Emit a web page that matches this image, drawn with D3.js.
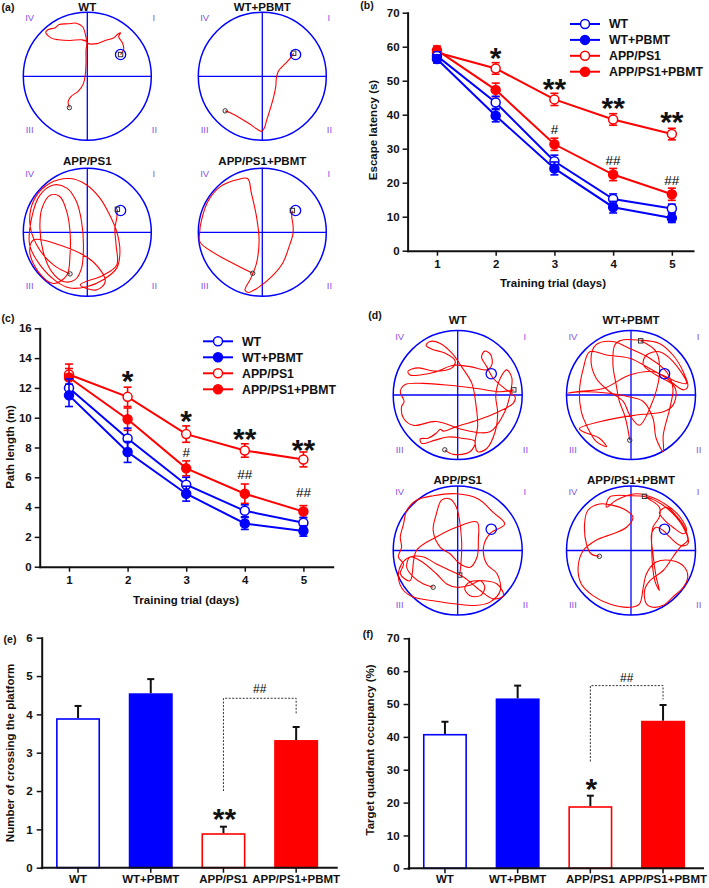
<!DOCTYPE html>
<html><head><meta charset="utf-8">
<script src="https://cdn.jsdelivr.net/npm/d3@7"></script>
<style>
body{margin:0;background:#fff;}
svg{display:block;font-family:"Liberation Sans",Arial,sans-serif;}
</style></head><body>
<svg id="chart" width="709" height="888"></svg>
<script>
// ---------- data ----------
const days=[1,2,3,4,5];
const groups=["WT","WT+PBMT","APP/PS1","APP/PS1+PBMT"];
// (b) escape latency (s)
const latWT=[57.3,43.6,26.3,15.2,12.4];
const latWTP=[56.4,39.7,24.2,12.8,9.6];
const latAPP=[58.3,53.6,44.5,38.6,34.3];
const latAPPP=[59.0,47.3,31.3,22.4,16.6];
const latErrWT=[1.2,1.8,1.8,1.5,1.3];
const latErrWTP=[1.2,1.8,1.9,1.7,1.3];
const latErrAPP=[1.2,1.7,1.8,1.7,1.7];
const latErrAPPP=[1.2,2.0,1.8,1.8,1.8];
const latStars=[[2,"*",58.5],[3,"**",49.4],[4,"**",43.8],[5,"**",39.7]];
const latHash=[[3,"#",35.7],[4,"##",26.7],[5,"##",20.8]];
const latTicks=[0,10,20,30,40,50,60,70];
// (c) path length (m)
const pathWT=[12.0,8.6,5.5,3.75,2.95];
const pathWTP=[11.5,7.7,4.9,2.9,2.4];
const pathAPP=[12.9,11.4,8.9,7.8,7.2];
const pathAPPP=[12.7,9.9,6.6,4.9,3.7];
const pathErrWT=[0.6,0.7,0.5,0.4,0.35];
const pathErrWTP=[0.75,0.7,0.5,0.4,0.35];
const pathErrAPP=[0.7,0.65,0.55,0.45,0.5];
const pathErrAPPP=[0.6,0.75,0.5,0.65,0.4];
const pathStars=[[2,"*",12.9],[3,"*",10.2],[4,"**",9.0],[5,"**",8.3]];
const pathHash=[[3,"#",7.65],[4,"##",6.22],[5,"##",4.97]];
const pathTicks=[0,2,4,6,8,10,12,14,16];
// (e) number of crossings
const crossVals=[3.9,4.55,0.9,3.33];
const crossErr=[0.32,0.37,0.17,0.34];
const crossTicks=[0,1,2,3,4,5,6];
const crossStar=["**",1.43];
const crossHash=["##",4.66];
const crossBracket=[2.0,4.42,4.0];
// (f) target quadrant occupancy (%)
const occVals=[40.9,51.7,18.9,44.9];
const occErr=[3.7,3.9,3.2,4.8];
const occTicks=[0,10,20,30,40,50,60,70];
const occStar=["*",26.0];
const occHash=["##",58.0];
const occBracket=[32.5,55.6,51.4];
// swim trajectories, pool coordinates (-100..100, y downward)
const platformA=[52,-34], platformD=[52,-33];
const trajA_WT=[[-28,49],[-30,40],[-26,32],[-14,23],[-6,11.5],[-3,-4],[-2,-22],[-2,-41],[-1,-54],[-9,-57],[-27,-56],[-45,-57],[-57,-60],[-65,-69],[-61,-73],[-50,-76],[-44,-81],[-30,-82],[-17,-83],[-7,-77],[-2,-61],[0,-52],[15,-51],[28,-56],[41,-60],[48,-66],[52,-68],[49,-62],[55,-52],[57,-43],[52,-34]];
const trajA_WTP=[[-58,54],[-50,57],[-35,65],[-19,75],[-9,82],[-1,86],[3,81],[7,68],[13,49],[18,31],[21,16],[22,3],[25,-8],[32,-16],[39,-23],[45,-30],[49,-36]];
const trajA_APP=[[-27,65],[-53,51],[-79,20],[-90,-17],[-82,-53],[-58,-77],[-27,-84],[-1,-74],[20,-53],[35,-27],[46,-1],[51,30],[46,56],[25,74],[-1,85],[-27,87],[-48,77],[-74,51],[-90,20],[-87,-22],[-74,-58],[-53,-74],[-32,-69],[-17,-48],[-9,-17],[-6,20],[-9,56],[-19,74],[-37,77],[-56,61],[-69,30],[-74,-6],[-71,-37],[-58,-58],[-43,-56],[-32,-32],[-27,-1],[-27,35],[-32,67],[-53,80],[-77,61],[-90,30],[-84,12],[-43,20],[9,46],[28,77],[14,90],[-11,82],[25,67],[46,51],[45,20],[43,-6],[46,-22],[47,-36]];
const trajA_APPP=[[-15,64],[-97,16],[-98,2],[-95,-19],[-84,-50],[-66,-71],[-40,-82],[-23,-84],[-17,-61],[-9,-24],[-5,12],[-9,48],[-18,72],[-27,90],[-22,94],[-6,86],[15,69],[32,48],[42,22],[48,2],[48,-11],[46,-25],[47,-34]];
const trajD_WT=[[-20,85],[-7,92],[19,88],[27,72],[6,67],[-15,65],[-35,70],[-56,75],[-58,68],[-46,67],[-33,59],[-27,53],[-22,56],[-2,49],[30,39],[61,27],[86,13],[89,3],[73,-10],[55,-26],[45,-44],[37,-59],[42,-68],[51,-63],[53,-47],[45,-39],[19,-44],[-7,-46],[-33,-36],[-58,-31],[-74,-31],[-77,-37],[-61,-42],[-35,-37],[-9,-42],[-4,-53],[-20,-65],[-40,-71],[-49,-77],[-43,-83],[-27,-80],[-9,-65],[6,-44],[22,-18],[28,13],[31,47],[27,75],[31,88],[45,83],[58,57],[62,28],[59,0],[66,-26],[76,-39],[84,-26],[81,0],[73,26],[50,57],[9,54],[-33,41],[-69,47],[-84,36],[-87,18],[-83,10],[-89,-5],[-82,-16],[-53,-18],[-12,-15],[30,-10],[66,-5],[87,-8]];
const trajD_WTP=[[-2,70],[-5,52],[-10,31],[-18,10],[-23,-16],[-28,-47],[-25,-78],[-15,-85],[13,-85],[44,-80],[65,-62],[81,-36],[88,-13],[81,-8],[55,-26],[29,-41],[-2,-57],[-38,-62],[-64,-67],[-74,-41],[-80,-5],[-77,26],[-69,47],[-54,72],[-38,80],[-49,67],[-74,57],[-80,52],[-38,39],[8,31],[50,26],[65,16],[70,-5],[65,-16],[39,-31],[19,-47],[24,-62],[44,-67],[65,-52],[86,-18],[70,-21],[34,-36],[-2,-31],[-43,-10],[-85,-5],[-98,-3],[-74,-5],[-38,-3],[-2,3],[19,10],[34,36],[39,67],[50,88],[50,62],[60,21],[65,-10],[55,-36],[29,-57],[-2,-72],[-28,-83],[-54,-78],[-62,-57],[-54,-26],[-33,-5],[-12,10],[-2,31],[13,47],[29,21],[44,-31],[39,-67],[15,-84]];
const trajD_APP=[[-38,57],[-53,52],[-69,41],[-79,26],[-74,10],[-58,16],[-33,36],[-17,52],[-2,57],[19,54],[35,47],[42,57],[35,70],[19,70],[11,59],[19,49],[40,47],[61,52],[71,70],[55,75],[35,62],[9,41],[-12,31],[-33,21],[-53,10],[-74,10],[-87,21],[-92,41],[-84,62],[-69,72],[-38,78],[-2,83],[30,85],[50,80],[66,62],[61,36],[45,21],[40,-5],[50,-26],[73,-41],[55,-59],[32,-80],[-2,-88],[-38,-85],[-64,-78],[-79,-62],[-84,-41],[-89,-21],[-87,-5],[-92,10],[-84,21],[-89,36],[-74,47],[-64,0],[-33,-21],[-2,-36],[30,-44],[32,-16],[30,10],[19,26],[4,21],[-12,5],[-27,-5],[-38,-31],[-33,-57],[-25,-78],[-12,-80],[-2,-67],[6,-16],[5,21],[3,38]];
const trajD_APPP=[[-49,9],[-62,5],[-69,-10],[-72,-41],[-67,-62],[-49,-72],[-28,-70],[-7,-62],[3,-52],[-7,-36],[-28,-26],[-54,-16],[-74,0],[-82,26],[-77,52],[-59,70],[-33,83],[-2,88],[13,83],[19,57],[24,36],[39,18],[65,16],[83,26],[88,41],[81,57],[65,72],[50,85],[34,88],[24,83],[21,62],[29,47],[50,31],[65,10],[76,-5],[88,-16],[81,-36],[65,-57],[47,-72],[24,-83],[-2,-85],[-33,-83],[-38,-67],[-23,-78],[8,-88],[39,-80],[60,-67],[76,-52],[86,-31],[81,-26],[65,-36],[52,-47],[44,-59],[55,-67],[70,-54],[83,-36],[88,-10],[76,-8],[60,-21],[50,-31],[39,-36],[32,-26],[34,5],[39,41],[44,62],[37,47],[32,-5],[34,-36],[44,-52],[44,-67],[29,-79],[21,-84]];

// ---------- styles ----------
const BLUE="#0000ff", RED="#ff0000", PURPLE="#8a55e6", INK="#111";
const colors=[BLUE,BLUE,RED,RED];
const filled=[false,true,false,true];
const svg=d3.select("#chart");

function styleAxis(g){
  g.attr("font-size",null).attr("font-family",null);
  g.select(".domain").attr("stroke",INK).attr("stroke-width",2).attr("stroke-linecap","square");
  g.selectAll(".tick line").attr("stroke",INK).attr("stroke-width",1.5);
  g.selectAll(".tick text").attr("fill",INK).attr("font-size",11.5).attr("font-weight","bold");
}
function label(x,y,t,o={}){
  return svg.append("text").attr("x",x).attr("y",y).attr("dy",o.dy||"0.35em")
    .attr("text-anchor",o.anchor||"middle").attr("font-size",o.size||11.5)
    .attr("font-weight",o.weight||"bold").attr("fill",o.fill||INK).text(t);
}
function vlabel(x,y,t){
  svg.append("text").attr("transform",`translate(${x},${y}) rotate(-90)`).attr("dy","0.35em")
    .attr("text-anchor","middle").attr("font-size",11.5).attr("font-weight","bold").attr("fill",INK).text(t);
}
function stars(x,y,t,fs){
  svg.append("text").attr("x",x).attr("y",y+0.55*fs).attr("text-anchor","middle")
    .attr("font-size",fs).attr("font-weight","bold").attr("fill",INK).text(t);
}

// ---------- line panels ----------
function linePanel(o){
  const x=d3.scaleLinear().domain([0.5,o.xEnd]).range(o.xr);
  const y=d3.scaleLinear().domain(o.yd).range(o.yr);
  const ax=svg.append("g").attr("transform",`translate(0,${o.yr[0]})`)
    .call(d3.axisBottom(x).tickValues(days).tickFormat(d3.format("d")).tickSize(5).tickPadding(4).tickSizeOuter(0));
  const ay=svg.append("g").attr("transform",`translate(${o.xr[0]},0)`)
    .call(d3.axisLeft(y).tickValues(o.yt).tickFormat(d3.format("d")).tickSize(5).tickPadding(3).tickSizeOuter(0));
  styleAxis(ax);styleAxis(ay);
  label(o.xtPos[0],o.xtPos[1],"Training trial (days)");
  vlabel(o.ytPos[0],o.ytPos[1],o.yTitle);
  [2,3,0,1].forEach(i=>{
    const pts=days.map((d,k)=>({d,v:o.series[i][k],e:o.errs[i][k]}));
    const g=svg.append("g");
    g.append("path").datum(pts).attr("d",d3.line().x(p=>x(p.d)).y(p=>y(p.v)))
      .attr("fill","none").attr("stroke",colors[i]).attr("stroke-width",2);
    const eb=g.selectAll("g.eb").data(pts).join("g").attr("class","eb")
      .attr("stroke",colors[i]).attr("stroke-width",1.6);
    eb.append("line").attr("x1",p=>x(p.d)).attr("x2",p=>x(p.d)).attr("y1",p=>y(p.v-p.e)).attr("y2",p=>y(p.v+p.e));
    eb.append("line").attr("x1",p=>x(p.d)-4).attr("x2",p=>x(p.d)+4).attr("y1",p=>y(p.v+p.e)).attr("y2",p=>y(p.v+p.e));
    eb.append("line").attr("x1",p=>x(p.d)-4).attr("x2",p=>x(p.d)+4).attr("y1",p=>y(p.v-p.e)).attr("y2",p=>y(p.v-p.e));
    g.selectAll("circle").data(pts).join("circle").attr("cx",p=>x(p.d)).attr("cy",p=>y(p.v)).attr("r",4.5)
      .attr("fill",filled[i]?colors[i]:"#fff").attr("stroke",colors[i]).attr("stroke-width",1.5);
  });
  groups.forEach((name,i)=>{
    const yy=o.leg[1]+i*o.leg[2];
    svg.append("line").attr("x1",o.leg[0]).attr("x2",o.leg[0]+30).attr("y1",yy).attr("y2",yy).attr("stroke",colors[i]).attr("stroke-width",2);
    svg.append("circle").attr("cx",o.leg[0]+15).attr("cy",yy).attr("r",4.5).attr("fill",filled[i]?colors[i]:"#fff").attr("stroke",colors[i]).attr("stroke-width",1.5);
    label(o.leg[0]+39,yy,name,{anchor:"start",size:12.3});
  });
  o.stars.forEach(([d,t,v])=>stars(x(d),y(v),t,30));
  o.hash.forEach(([d,t,v])=>label(x(d),y(v),t,{size:13.5,weight:"normal",fill:"#000"}));
}
linePanel({xr:[407.6,693],xEnd:5.36,yd:[0,70],yr:[250.7,12.7],yt:latTicks,
  series:[latWT,latWTP,latAPP,latAPPP],errs:[latErrWT,latErrWTP,latErrAPP,latErrAPPP],
  yTitle:"Escape latency (s)",xtPos:[553,283],ytPos:[373,130],leg:[570,24,15.9],stars:latStars,hash:latHash});
linePanel({xr:[39.7,332.7],xEnd:5.5,yd:[0,16],yr:[566.7,328.3],yt:pathTicks,
  series:[pathWT,pathWTP,pathAPP,pathAPPP],errs:[pathErrWT,pathErrWTP,pathErrAPP,pathErrAPPP],
  yTitle:"Path length (m)",xtPos:[186,600],ytPos:[10,447],leg:[203,341.3,16],stars:pathStars,hash:pathHash});

// ---------- bar panels ----------
function barPanel(o){
  const x=d3.scaleBand().domain(groups).range(o.xr).paddingInner(0.395).paddingOuter(0.1975);
  const y=d3.scaleLinear().domain(o.yd).range(o.yr);
  const bw=x.bandwidth();
  groups.forEach((gname,i)=>{
    const v=o.vals[i],e=o.errs[i],cx=x(gname)+bw/2;
    svg.append("line").attr("x1",cx).attr("x2",cx).attr("y1",y(v)).attr("y2",y(v+e)).attr("stroke",INK).attr("stroke-width",2);
    svg.append("line").attr("x1",cx-3.5).attr("x2",cx+3.5).attr("y1",y(v+e)).attr("y2",y(v+e)).attr("stroke",INK).attr("stroke-width",2);
    svg.append("rect").attr("x",x(gname)+0.8).attr("y",y(v)+0.8).attr("width",bw-1.6).attr("height",y(0)-y(v)-0.8)
      .attr("fill",filled[i]?colors[i]:"#fff").attr("stroke",colors[i]).attr("stroke-width",1.6);
  });
  const ax=svg.append("g").attr("transform",`translate(0,${o.yr[0]})`)
    .call(d3.axisBottom(x).tickSize(5).tickPadding(2).tickSizeOuter(0));
  ax.select(".domain").attr("d",`M${o.xr[0]},0H${o.xEnd}`);
  const ay=svg.append("g").attr("transform",`translate(${o.xr[0]},0)`)
    .call(d3.axisLeft(y).tickValues(o.yt).tickFormat(d3.format("d")).tickSize(5).tickPadding(4).tickSizeOuter(0));
  styleAxis(ax);styleAxis(ay);
  ax.selectAll(".tick text").attr("font-size",11.5);
  vlabel(o.ytPos[0],o.ytPos[1],o.yTitle);
  const c3=x(groups[2])+bw/2,c4=x(groups[3])+bw/2;
  svg.append("path").attr("d",`M${c3},${y(o.br[0])}V${y(o.br[1])}H${c4}V${y(o.br[2])}`)
    .attr("fill","none").attr("stroke","#333").attr("stroke-width",1).attr("stroke-dasharray","2,1.5");
  stars(c3+1,y(o.star[1]),o.star[0],30);
  label((c3+c4)/2,y(o.hash[1]),o.hash[0],{size:12,weight:"normal",fill:"#000"});
}
barPanel({xr:[41.7,332.5],xEnd:336.7,yd:[0,6],yr:[867.7,637.7],yt:crossTicks,vals:crossVals,errs:crossErr,
  yTitle:"Number of crossing the platform",ytPos:[10,753],br:crossBracket,star:crossStar,hash:crossHash});
barPanel({xr:[408.6,699.4],xEnd:703,yd:[0,70],yr:[868.3,638.3],yt:occTicks,vals:occVals,errs:occErr,
  yTitle:"Target quadrant occupancy (%)",ytPos:[370,750],br:occBracket,star:occStar,hash:occHash});

// ---------- pools ----------
function pool(cx,cy,r,title,titleY,path,plat){
  const sx=d3.scaleLinear().domain([-100,100]).range([cx-r,cx+r]);
  const sy=d3.scaleLinear().domain([-100,100]).range([cy-r,cy+r]);
  const g=svg.append("g");
  g.append("circle").attr("cx",cx).attr("cy",cy).attr("r",r).attr("fill","none").attr("stroke",BLUE).attr("stroke-width",1.5);
  g.append("line").attr("x1",sx(-100)).attr("x2",sx(100)).attr("y1",sy(0)).attr("y2",sy(0)).attr("stroke",BLUE).attr("stroke-width",1.3);
  g.append("line").attr("x1",sx(0)).attr("x2",sx(0)).attr("y1",sy(-100)).attr("y2",sy(100)).attr("stroke",BLUE).attr("stroke-width",1.3);
  g.append("path").datum(path).attr("d",d3.line().x(p=>sx(p[0])).y(p=>sy(p[1])).curve(d3.curveCatmullRom.alpha(0.5)))
    .attr("fill","none").attr("stroke",RED).attr("stroke-width",1.1);
  g.append("circle").attr("cx",sx(plat[0])).attr("cy",sy(plat[1])).attr("r",sx(8)-sx(0)).attr("fill","none").attr("stroke",BLUE).attr("stroke-width",1.3);
  const s=path[0],e=path[path.length-1];
  g.append("circle").attr("cx",sx(s[0])).attr("cy",sy(s[1])).attr("r",2.2).attr("fill","none").attr("stroke","#333").attr("stroke-width",1);
  g.append("rect").attr("x",sx(e[0])-2.2).attr("y",sy(e[1])-2.2).attr("width",4.4).attr("height",4.4).attr("fill","none").attr("stroke","#333").attr("stroke-width",1);
  label(cx,titleY,title);
  [["IV",-0.9,-0.91],["I",1.04,-0.91],["III",-0.9,0.84],["II",1.05,0.84]].forEach(([t,a,b])=>
    label(cx+a*r,cy+b*r,t,{size:9.5,weight:"normal",fill:PURPLE}));
}
pool(87.3,76.3,64,"WT",6.5,trajA_WT,platformA);
pool(262.3,76.3,64,"WT+PBMT",6.5,trajA_WTP,platformA);
pool(87.3,232.3,64,"APP/PS1",161,trajA_APP,platformA);
pool(262.3,232.3,64,"APP/PS1+PBMT",161,trajA_APPP,platformA);
pool(457.7,395,64.5,"WT",320,trajD_WT,platformD);
pool(631,395,64.5,"WT+PBMT",320,trajD_WTP,platformD);
pool(457.7,550.5,64.5,"APP/PS1",480,trajD_APP,platformD);
pool(631,550.5,64.5,"APP/PS1+PBMT",480,trajD_APPP,platformD);

// panel letters
[["(a)",8,7],["(b)",367,5],["(c)",8,318],["(d)",375,315],["(e)",10,639],["(f)",368,634]]
  .forEach(([t,x,y])=>label(x,y,t,{size:10.5}));
</script>
</body></html>
